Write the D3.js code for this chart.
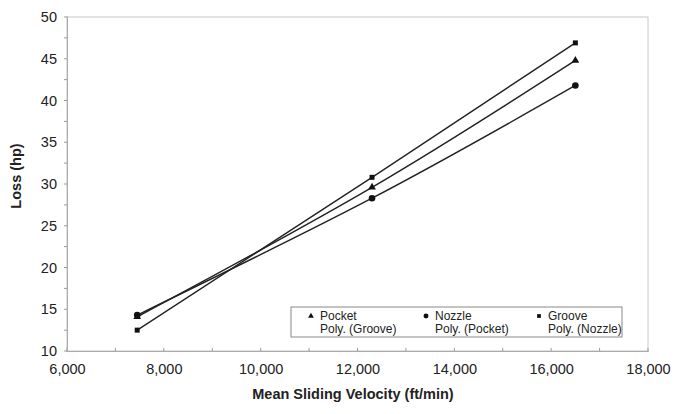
<!DOCTYPE html>
<html><head><meta charset="utf-8">
<script src="https://cdn.jsdelivr.net/npm/d3@7"></script>
<style>body{margin:0;background:#fff}svg{display:block}text{font-family:"Liberation Sans",Arial,sans-serif;fill:#222}</style>
</head><body><svg id="c" width="682" height="414"></svg>
<script>
const velocity = [7450, 12300, 16500];
const pocket = [14.1, 29.6, 44.8];
const nozzle = [14.3, 28.3, 41.8];
const groove = [12.5, 30.8, 46.9];
const xTicks = [6000, 8000, 10000, 12000, 14000, 16000, 18000];
const yTicks = [10, 15, 20, 25, 30, 35, 40, 45, 50];
const legendRow1 = ["Pocket", "Nozzle", "Groove"];
const legendRow2 = ["Poly. (Groove)", "Poly. (Pocket)", "Poly. (Nozzle)"];

const svg = d3.select("#c");
const L = 67, R = 648, T = 17, B = 351;
const x = d3.scaleLinear().domain([6000, 18000]).range([L, R]);
const y = d3.scaleLinear().domain([10, 50]).range([B, T]);

// frame
svg.append("rect").attr("x", L).attr("y", T).attr("width", R - L).attr("height", B - T)
  .attr("fill", "none").attr("stroke", "#c8c8c8").attr("stroke-width", 1);

// minor ticks
const xMinor = d3.range(6000, 18001, 1000);
svg.append("g").selectAll("line").data(xMinor).join("line")
  .attr("x1", d => x(d)).attr("x2", d => x(d)).attr("y1", B - 3).attr("y2", B + 1)
  .attr("stroke", "#999");
const yMinor = d3.range(10, 50.01, 2.5);
svg.append("g").selectAll("line").data(yMinor).join("line")
  .attr("x1", L - 3).attr("x2", L + 1).attr("y1", d => y(d)).attr("y2", d => y(d))
  .attr("stroke", "#999");

// axes
const fmt = d3.format(",");
const xa = svg.append("g").attr("transform", `translate(0,${B})`)
  .call(d3.axisBottom(x).tickValues(xTicks).tickFormat(fmt).tickSize(0).tickPadding(13));
const ya = svg.append("g").attr("transform", `translate(${L},0)`)
  .call(d3.axisLeft(y).tickValues(yTicks).tickSize(0).tickPadding(10));
[xa, ya].forEach(g => {
  g.select(".domain").attr("stroke", "#aaa");
  g.selectAll("text").attr("font-size", 14.5).attr("fill", "#222")
   .style("font-family", '"Liberation Sans",Arial,sans-serif');
});

// titles
svg.append("text").attr("x", 353).attr("y", 399).attr("text-anchor", "middle")
  .attr("font-size", 14.5).attr("font-weight", "bold").text("Mean Sliding Velocity (ft/min)");
svg.append("text").attr("transform", "translate(21,176) rotate(-90)").attr("text-anchor", "middle")
  .attr("font-size", 14.5).attr("font-weight", "bold").text("Loss (hp)");

// trendlines
const series = [
  {name: "Groove", v: groove, shape: "square"},
  {name: "Pocket", v: pocket, shape: "triangle"},
  {name: "Nozzle", v: nozzle, shape: "circle"}
];
const line = d3.line().x(d => x(d[0])).y(d => y(d[1])).curve(d3.curveNatural);
series.forEach(s => {
  const pts = velocity.map((v, i) => [v, s.v[i]]);
  svg.append("path").attr("d", line(pts)).attr("fill", "none")
    .attr("stroke", "#222").attr("stroke-width", 1.4);
});

function marker(g, shape, cx, cy, k) {
  if (shape === "square") g.append("rect").attr("x", cx - 2.5 * k).attr("y", cy - 2.5 * k).attr("width", 5 * k).attr("height", 5 * k).attr("fill", "#111");
  else if (shape === "circle") g.append("circle").attr("cx", cx).attr("cy", cy).attr("r", 3.3 * k).attr("fill", "#111");
  else g.append("path").attr("d", d3.symbol(d3.symbolTriangle, 26 * k * k)()).attr("transform", `translate(${cx},${cy})`).attr("fill", "#111");
}
const mg = svg.append("g");
series.forEach(s => velocity.forEach((v, i) => marker(mg, s.shape, x(v), y(s.v[i]), 1)));

// legend
const lg = svg.append("g");
lg.append("rect").attr("x", 291).attr("y", 307).attr("width", 331).attr("height", 30)
  .attr("fill", "#fff").attr("stroke", "#888").attr("stroke-width", 1);
const colX = [320, 435, 548];
const legShapes = ["triangle", "circle", "square"];
legendRow1.forEach((t, i) => {
  marker(lg, legShapes[i], colX[i] - 9, 316, 0.75);
  lg.append("text").attr("x", colX[i]).attr("y", 320).attr("font-size", 12).text(t);
  lg.append("text").attr("x", colX[i]).attr("y", 333).attr("font-size", 12).text(legendRow2[i]);
});
</script></body></html>
